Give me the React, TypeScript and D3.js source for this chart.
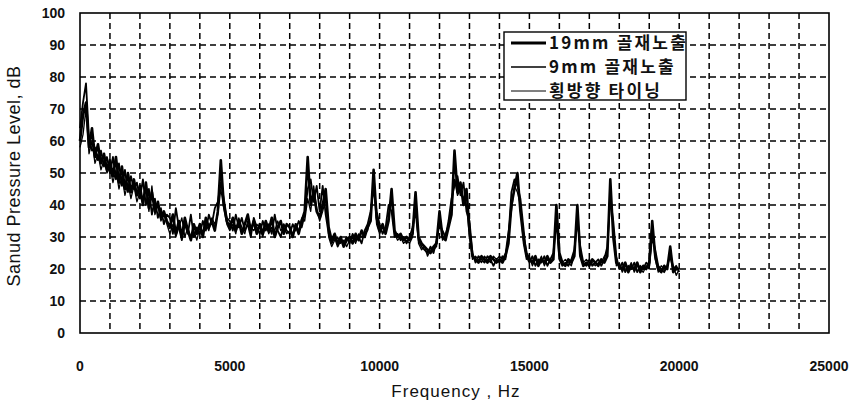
import React from "react";
import * as d3 from "d3";

// Frequency grid of the sampled spectra (Hz), one value per 100 Hz from 0 to 20000
const FREQ_STEP = 100;

// 19mm 골재노출
const series19mm: number[] = [
  60, 68, 72, 58, 64, 55, 59, 53, 56, 51,
  54, 49, 55, 47, 52, 45, 50, 44, 48, 43,
  46, 40, 47, 39, 44, 38, 41, 36, 38, 35,
  33, 37, 31, 35, 30, 36, 32, 29, 34, 31,
  34, 30, 36, 33, 35, 32, 38, 54, 40, 35,
  33, 36, 32, 35, 31, 34, 37, 32, 35, 31,
  34, 31, 35, 32, 36, 30, 33, 35, 31, 34,
  33, 30, 34, 31, 35, 38, 55, 40, 44, 38,
  36, 40, 45, 33, 29, 31, 28, 30, 27, 29,
  30, 28, 31, 29, 32, 30, 33, 35, 51, 36,
  32, 34, 31, 35, 45, 32, 30, 31, 29, 30,
  29, 31, 44, 30, 28, 27, 26, 25, 27, 28,
  38, 30, 29, 33, 37, 57, 44, 47, 40, 45,
  32, 24, 23, 22, 24, 23, 22, 24, 23, 22,
  23, 22, 24, 28, 40, 45, 50, 38, 30, 25,
  23, 22, 24, 21, 23, 22, 24, 22, 23, 40,
  25, 22, 21, 23, 22, 24, 40, 24, 21, 22,
  21, 23, 22, 21, 23, 22, 24, 48, 30, 22,
  21, 20, 22, 19, 21, 20, 22, 19, 21, 20,
  22, 35, 24, 20, 19, 21, 20, 27, 19, 20,
  20,
];

// 9mm 골재노출
const series9mm: number[] = [
  64, 72, 78, 61, 57, 58, 54, 57, 52, 55,
  50, 55, 48, 53, 46, 51, 44, 49, 45, 47,
  42, 48, 40, 45, 37, 42, 36, 39, 34, 37,
  36, 31, 39, 33, 29, 34, 31, 37, 30, 33,
  31, 35, 32, 37, 34, 39, 41, 47, 42, 36,
  35, 32, 37, 33, 36, 32, 34, 30, 36, 33,
  31, 35, 32, 34, 31, 37, 32, 30, 34, 32,
  31, 34, 32, 35, 33, 37, 45, 48, 41, 46,
  38, 46, 37, 31, 28, 30, 27, 29, 28, 30,
  28, 31, 29, 30, 28, 32, 34, 38, 45, 38,
  34, 31, 33, 40, 38, 30, 31, 29, 30, 28,
  30, 33, 38, 29, 27, 26, 25, 27, 25, 29,
  34, 32, 30, 35, 42, 46, 49, 43, 47, 38,
  35, 25, 22, 24, 23, 22, 24, 23, 21, 23,
  22, 24, 23, 30, 44, 48, 46, 42, 33, 24,
  22, 24, 21, 23, 22, 24, 21, 23, 25, 35,
  23, 21, 22, 21, 23, 26, 35, 27, 22, 21,
  23, 21, 22, 23, 21, 23, 27, 42, 35, 24,
  20, 22, 19, 21, 20, 22, 19, 21, 20, 22,
  21, 30, 26, 21, 20, 19, 21, 24, 20, 21,
  19,
];

// 횡방향 타이닝
const seriesTransverse: number[] = [
  58, 62, 70, 56, 60, 53, 56, 51, 54, 50,
  52, 47, 51, 45, 49, 43, 47, 42, 46, 41,
  44, 41, 45, 38, 46, 37, 40, 35, 37, 34,
  31, 34, 30, 33, 36, 30, 33, 30, 32, 29,
  33, 31, 34, 32, 36, 34, 37, 45, 39, 34,
  32, 34, 31, 36, 33, 31, 35, 33, 32, 34,
  33, 30, 34, 31, 33, 32, 35, 32, 33, 31,
  32, 31, 33, 32, 36, 35, 42, 38, 46, 39,
  35, 38, 42, 30, 27, 29, 30, 28, 29, 27,
  29, 30, 28, 31, 30, 31, 32, 36, 47, 34,
  31, 33, 32, 36, 42, 31, 29, 30, 28, 29,
  28, 30, 40, 28, 26, 27, 24, 26, 26, 27,
  36, 29, 31, 34, 39, 48, 43, 45, 42, 40,
  30, 23, 24, 23, 22, 24, 23, 22, 24, 23,
  24, 23, 25, 32, 38, 46, 44, 40, 28, 23,
  24, 21, 23, 22, 24, 21, 23, 22, 24, 37,
  24, 22, 23, 22, 21, 25, 38, 25, 22, 23,
  22, 22, 21, 22, 22, 24, 25, 45, 33, 21,
  22, 19, 21, 20, 22, 19, 21, 20, 19, 21,
  20, 32, 23, 19, 21, 20, 21, 25, 21, 18,
  20,
];

const legendLabels = ["19mm 골재노출", "9mm 골재노출", "횡방향 타이닝"];
const xTicks = [0, 5000, 10000, 15000, 20000, 25000];
const yTicks = [0, 10, 20, 30, 40, 50, 60, 70, 80, 90, 100];

const W = 854;
const H = 405;
const M = { left: 80, right: 829, top: 13, bottom: 333 };

export default function App() {
  const x = d3.scaleLinear().domain([0, 25000]).range([M.left, M.right]);
  const y = d3.scaleLinear().domain([0, 100]).range([M.bottom, M.top]);

  const toPts = (vals: number[]) => vals.map((v, i) => [i * FREQ_STEP, v] as [number, number]);
  const line = d3
    .line<[number, number]>()
    .x((d) => x(d[0]))
    .y((d) => y(d[1]));

  const series = [
    { vals: seriesTransverse, w: 1.3 },
    { vals: series9mm, w: 1.8 },
    { vals: series19mm, w: 2.6 },
  ];

  const vGrid = d3.range(1000, 25000, 1000);
  const hGrid = d3.range(10, 100, 10);

  const legendWidths = [3, 1.5, 1];
  const font = "'Liberation Sans', Arial, sans-serif";
  const kfont = "'Noto Sans CJK KR', 'Liberation Sans', sans-serif";

  return (
    <svg
      width={W}
      height={H}
      style={{ position: "absolute", left: 0, top: 0, background: "#fff" }}
    >
      <rect x={0} y={0} width={W} height={H} fill="#fff" />
      {/* grid */}
      <g stroke="#000" strokeWidth={1.5} strokeDasharray="6,4">
        {vGrid.map((v) => (
          <line key={"v" + v} x1={x(v)} x2={x(v)} y1={M.top} y2={M.bottom} />
        ))}
        {hGrid.map((v) => (
          <line key={"h" + v} x1={M.left} x2={M.right} y1={y(v)} y2={y(v)} />
        ))}
      </g>
      {/* data */}
      <g fill="none" stroke="#000" strokeLinejoin="round">
        {series.map((s, i) => (
          <path key={i} d={line(toPts(s.vals)) || ""} strokeWidth={s.w} />
        ))}
      </g>
      {/* frame */}
      <rect
        x={M.left}
        y={M.top}
        width={M.right - M.left}
        height={M.bottom - M.top}
        fill="none"
        stroke="#000"
        strokeWidth={1.6}
      />
      {/* y ticks */}
      <g fontFamily={font} fontWeight="bold" fontSize={14} fill="#111" textAnchor="end">
        {yTicks.map((t) => (
          <text key={t} x={65} y={y(t) + 5}>
            {t}
          </text>
        ))}
      </g>
      {/* x ticks */}
      <g fontFamily={font} fontWeight="bold" fontSize={14} fill="#111" textAnchor="middle">
        {xTicks.map((t) => (
          <text key={t} x={x(t)} y={371}>
            {t}
          </text>
        ))}
      </g>
      <text
        x={456}
        y={397}
        textAnchor="middle"
        fontFamily={font}
        fontSize={17}
        letterSpacing={1}
        fill="#111"
      >
        Frequency , Hz
      </text>
      <text
        transform={`translate(20,176) rotate(-90)`}
        textAnchor="middle"
        fontFamily={font}
        fontSize={18}
        letterSpacing={0.5}
        fill="#111"
      >
        Sanud Pressure Level, dB
      </text>
      {/* legend */}
      <g>
        <rect x={504} y={32} width={182} height={68} fill="#fff" stroke="#000" strokeWidth={1.4} />
        {legendLabels.map((lab, i) => {
          const cy = 43 + i * 24;
          return (
            <g key={lab}>
              <line x1={511} x2={546} y1={cy} y2={cy} stroke="#000" strokeWidth={legendWidths[i]} />
              <text
                x={549}
                y={cy + 6}
                fontFamily={kfont}
                fontSize={17}
                fontWeight="bold"
                letterSpacing={2.2}
                fill="#111"
              >
                {lab}
              </text>
            </g>
          );
        })}
      </g>
    </svg>
  );
}
